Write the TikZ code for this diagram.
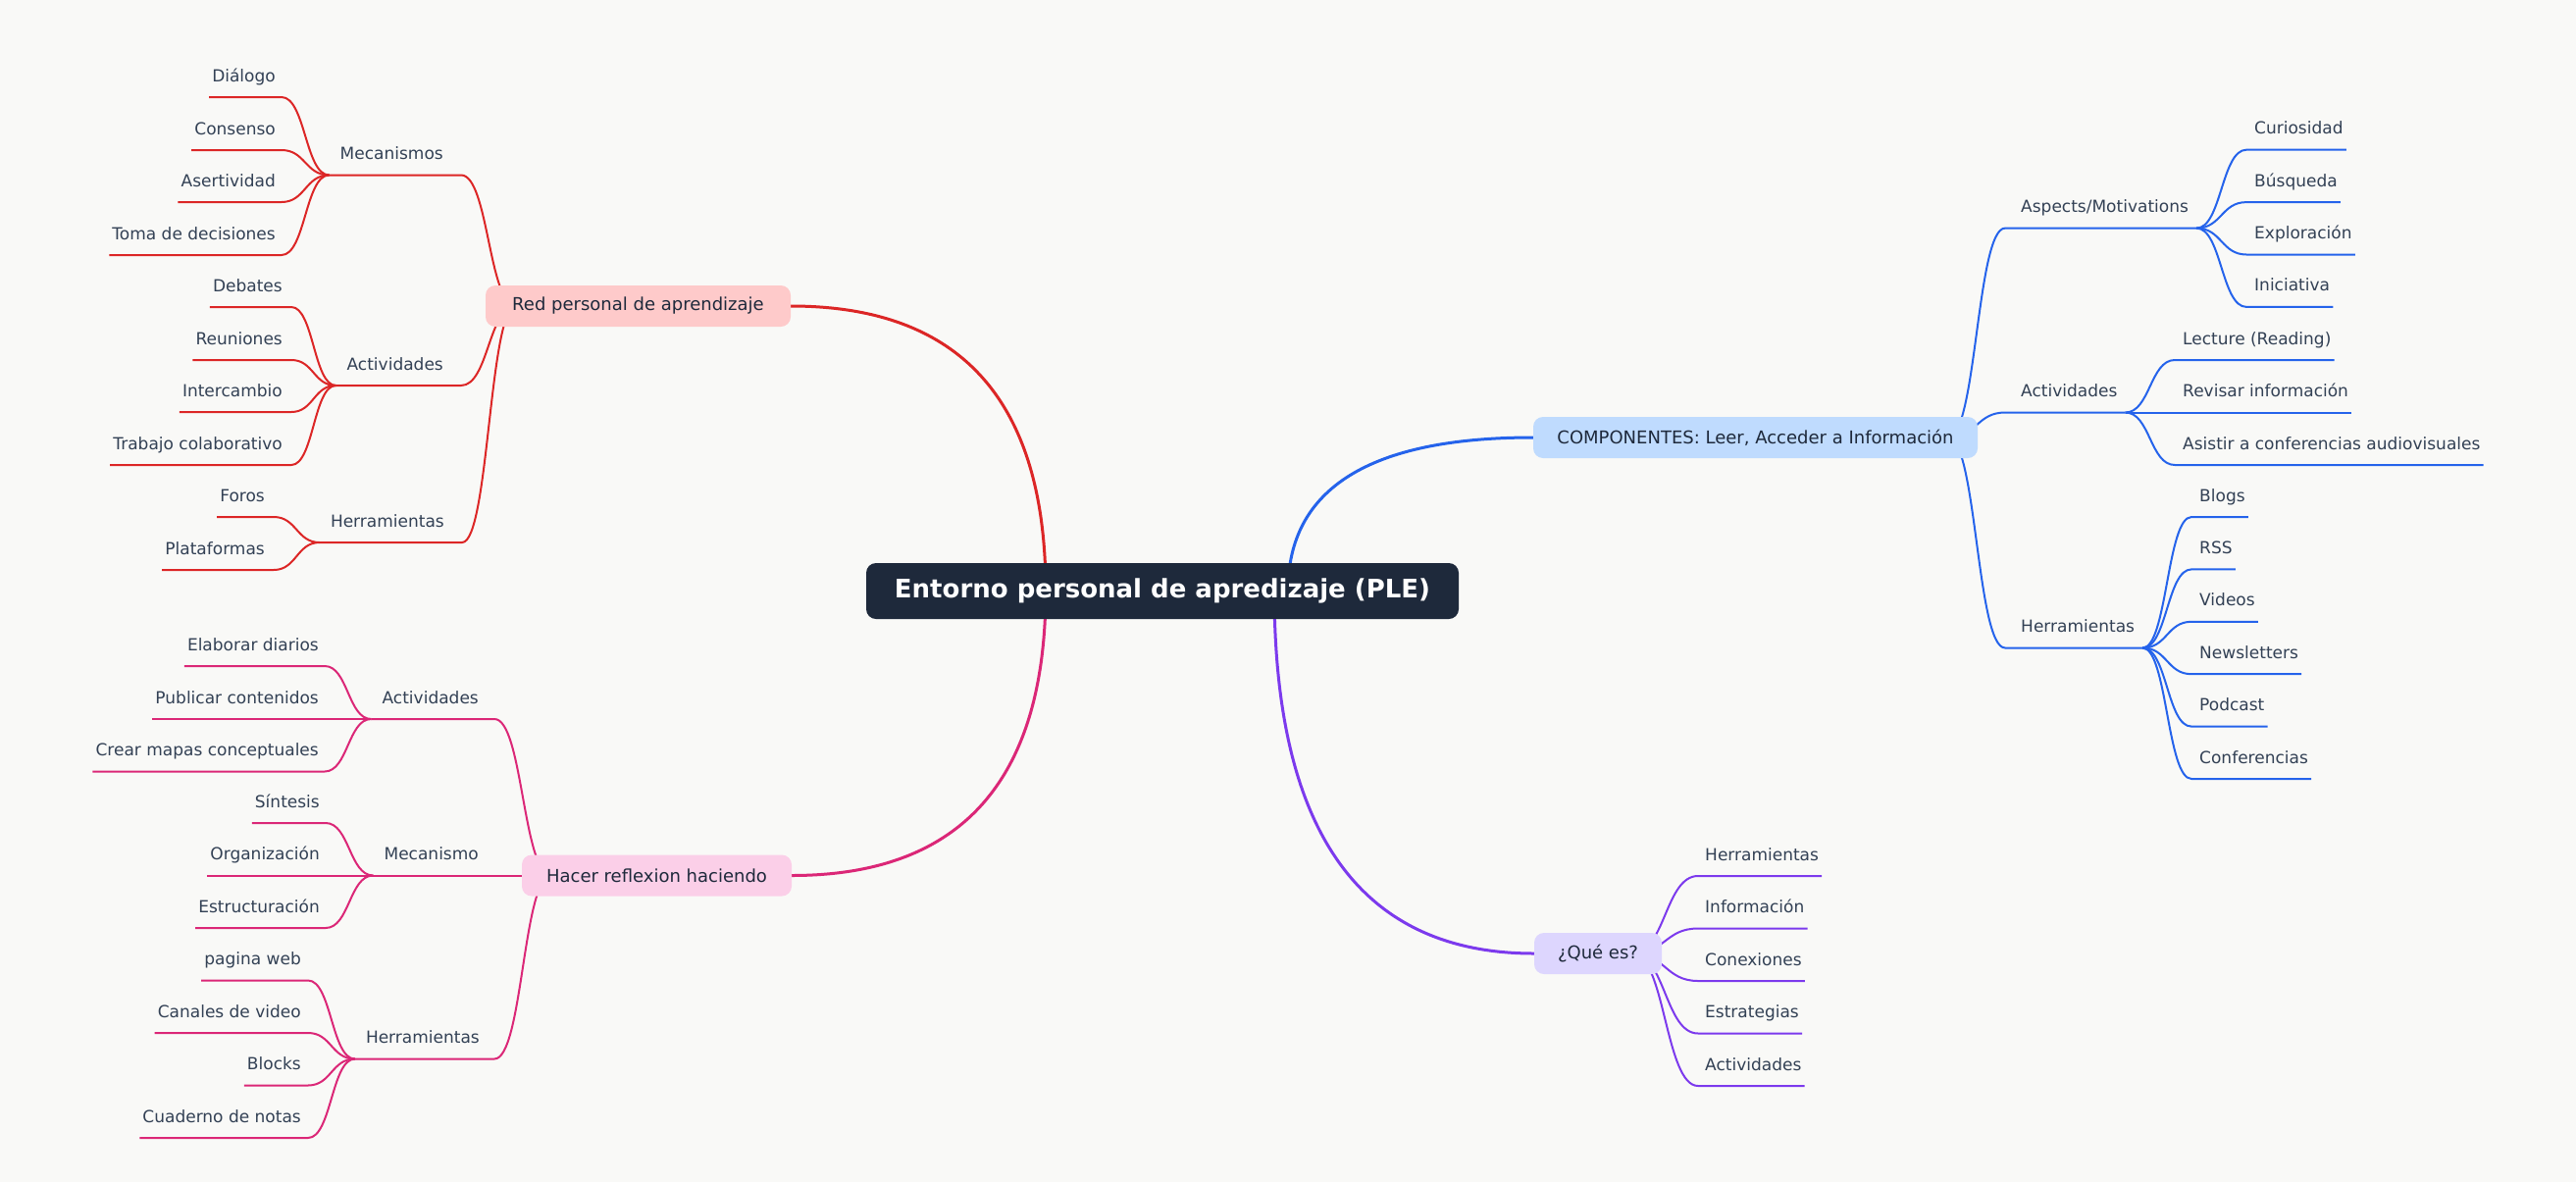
\documentclass[tikz,border=0pt]{standalone}
\usepackage{fontspec}
\setmainfont{DejaVu Sans}
\usetikzlibrary{calc}
\pgfdeclarelayer{back}
\pgfdeclarelayer{bg}
\pgfsetlayers{back,bg,main}
\definecolor{bgc}{HTML}{F9F9F7}
\definecolor{cred}{HTML}{DC2626}
\definecolor{cpink}{HTML}{DB2777}
\definecolor{cblue}{HTML}{2563EB}
\definecolor{cpurple}{HTML}{7C3AED}
\definecolor{fred}{HTML}{FECACA}
\definecolor{fpink}{HTML}{FBCFE8}
\definecolor{fblue}{HTML}{BFDBFE}
\definecolor{fpurple}{HTML}{DDD6FE}
\definecolor{rootc}{HTML}{1E293B}
\definecolor{leafc}{HTML}{334155}
\definecolor{boxtext}{HTML}{1E293B}
\tikzset{
  leaftext/.style={font=\fontsize{17}{20}\selectfont, text=leafc, inner sep=0pt},
  boxnode/.style={rounded corners=10pt, inner sep=0pt, minimum height=42pt,
    font=\fontsize{18}{22}\selectfont, text=boxtext},
  mainline/.style={line width=3pt, line cap=round},
  subline/.style={line width=2pt, line cap=butt, line join=round},
}
% left-side leaf: name, text, text right x, underline right x, y, junction, colour
\newcommand\leafL[7]{%
  \node[leaftext, anchor=base east] (#1) at (#3,#5-16) {#2};
  \path (#1.base west) ++(-3,0) coordinate (#1s);
  \coordinate (#1e) at (#4,#5);
  \coordinate (tmpm) at ($(#1e)!.5!(#6)$);
  \begin{pgfonlayer}{bg}
  \draw[subline,#7] (#1s |- #1e) -- (#1e) .. controls (tmpm |- #1e) and (tmpm |- #6) .. (#6);
  \end{pgfonlayer}}
% left-side sub-branch: name, text, text right x, underline right x, y, source, colour
\newcommand\subL[7]{%
  \node[leaftext, anchor=base east] (#1) at (#3,#5-16) {#2};
  \path (#1.base west) ++(-11,0) coordinate (#1s);
  \coordinate (#1e) at (#4,#5);
  \coordinate (#1j) at (#1s |- #1e);
  \coordinate (tmpm) at ($(#1e)!.5!(#6)$);
  \begin{pgfonlayer}{bg}
  \draw[subline,#7] (#1j) -- (#1e) .. controls (tmpm |- #1e) and (tmpm |- #6) .. (#6);
  \end{pgfonlayer}}
% right-side leaf: name, text, text left x, underline left x, y, junction, colour
\newcommand\leafR[7]{%
  \node[leaftext, anchor=base west] (#1) at (#3,#5-16) {#2};
  \path (#1.base east) ++(3,0) coordinate (#1s);
  \coordinate (#1e) at (#4,#5);
  \coordinate (tmpm) at ($(#1e)!.5!(#6)$);
  \begin{pgfonlayer}{bg}
  \draw[subline,#7] (#6) .. controls (tmpm |- #6) and (tmpm |- #1e) .. (#1e) -- (#1s |- #1e);
  \end{pgfonlayer}}
% right-side sub-branch: name, text, text left x, underline left x, y, source, colour
\newcommand\subR[7]{%
  \node[leaftext, anchor=base west] (#1) at (#3,#5-16) {#2};
  \path (#1.base east) ++(8,0) coordinate (#1s);
  \coordinate (#1e) at (#4,#5);
  \coordinate (#1j) at (#1s |- #1e);
  \coordinate (tmpm) at ($(#1e)!.5!(#6)$);
  \begin{pgfonlayer}{bg}
  \draw[subline,#7] (#6) .. controls (tmpm |- #6) and (tmpm |- #1e) .. (#1e) -- (#1j);
  \end{pgfonlayer}}
\begin{document}
\begin{tikzpicture}[x=1pt,y=-1pt]
\useasboundingbox (0,0) rectangle (2626,1205);
\begin{pgfonlayer}{back}
\fill[bgc] (0,0) rectangle (2626,1205);
\end{pgfonlayer}

% root and main topics
\node[rounded corners=10pt, fill=rootc, text=white, inner sep=0pt,
  minimum width=604pt, minimum height=57pt,
  font=\bfseries\fontsize{26}{31}\selectfont] (root) at (1185,602.5)
  {Entorno personal de apredizaje (PLE)};
\node[boxnode, fill=fred, minimum width=311pt] (red) at (650.5,312) {Red personal de aprendizaje};
\node[boxnode, fill=fpink, minimum width=275pt] (pink) at (669.5,892.5) {Hacer reflexion haciendo};
\node[boxnode, fill=fblue, minimum width=453pt] (blue) at (1789.5,446) {COMPONENTES: Leer, Acceder a Información};
\node[boxnode, fill=fpurple, minimum width=130pt] (purple) at (1629,972) {¿Qué es?};

% main connectors (quadratic curves written as cubics)
\coordinate (r1) at (1066,602);
\coordinate (r2) at (1313,602);
\coordinate (r3) at (1299,602);
\coordinate (qr) at (r1 |- red.east);
\coordinate (qp) at (r1 |- pink.east);
\coordinate (qb) at (r2 |- blue.west);
\coordinate (qq) at (r3 |- purple.west);
\begin{pgfonlayer}{bg}
\draw[mainline,cred] (r1) .. controls ($(r1)!2/3!(qr)$) and ($(red.east)!2/3!(qr)$) .. (red.east);
\draw[mainline,cpink] (r1) .. controls ($(r1)!2/3!(qp)$) and ($(pink.east)!2/3!(qp)$) .. (pink.east);
\draw[mainline,cblue] (r2) .. controls ($(r2)!2/3!(qb)$) and ($(blue.west)!2/3!(qb)$) .. (blue.west);
\draw[mainline,cpurple] (r3) .. controls ($(r3)!2/3!(qq)$) and ($(purple.west)!2/3!(qq)$) .. (purple.west);
\end{pgfonlayer}

% sources of the sub-branches (inside the boxes)
\coordinate (sred) at (526,312);
\coordinate (spink) at (562,892.5);
\coordinate (sblue) at (1986,446);
\coordinate (spurple) at (1664,972);

% red branch
\subL{rm}{Mecanismos}{452}{470}{178.5}{sred}{cred}
\subL{ra}{Actividades}{452}{470}{393}{sred}{cred}
\subL{rh}{Herramientas}{453}{471}{553}{sred}{cred}
\leafL{rm1}{Diálogo}{281}{287}{99}{rmj}{cred}
\leafL{rm2}{Consenso}{281}{287}{153}{rmj}{cred}
\leafL{rm3}{Asertividad}{281}{287}{206}{rmj}{cred}
\leafL{rm4}{Toma de decisiones}{281}{287}{260}{rmj}{cred}
\leafL{ra1}{Debates}{288}{297}{313}{raj}{cred}
\leafL{ra2}{Reuniones}{288}{297}{367}{raj}{cred}
\leafL{ra3}{Intercambio}{288}{297}{420}{raj}{cred}
\leafL{ra4}{Trabajo colaborativo}{288}{297}{474}{raj}{cred}
\leafL{rh1}{Foros}{270}{279}{527}{rhj}{cred}
\leafL{rh2}{Plataformas}{270}{279}{581}{rhj}{cred}

% pink branch
\subL{pa}{Actividades}{488}{504}{733}{spink}{cpink}
\subL{pm}{Mecanismo}{488}{504}{892.5}{spink}{cpink}
\subL{ph}{Herramientas}{489}{504}{1079.5}{spink}{cpink}
\leafL{pa1}{Elaborar diarios}{325}{331}{679}{paj}{cpink}
\leafL{pa2}{Publicar contenidos}{325}{331}{733}{paj}{cpink}
\leafL{pa3}{Crear mapas conceptuales}{325}{331}{786.5}{paj}{cpink}
\leafL{pm1}{Síntesis}{326}{332}{839}{pmj}{cpink}
\leafL{pm2}{Organización}{326}{332}{892.5}{pmj}{cpink}
\leafL{pm3}{Estructuración}{326}{332}{946}{pmj}{cpink}
\leafL{ph1}{pagina web}{307}{314}{999.5}{phj}{cpink}
\leafL{ph2}{Canales de video}{307}{314}{1053}{phj}{cpink}
\leafL{ph3}{Blocks}{307}{314}{1106.5}{phj}{cpink}
\leafL{ph4}{Cuaderno de notas}{307}{314}{1160}{phj}{cpink}

% blue branch
\subR{ba}{Aspects/Motivations}{2060}{2044}{232.6}{sblue}{cblue}
\subR{bb}{Actividades}{2060}{2044}{420.5}{sblue}{cblue}
\subR{bh}{Herramientas}{2060}{2044}{660.5}{sblue}{cblue}
\leafR{ba1}{Curiosidad}{2298}{2290}{152.7}{baj}{cblue}
\leafR{ba2}{Búsqueda}{2298}{2290}{206.1}{baj}{cblue}
\leafR{ba3}{Exploración}{2298}{2290}{259.5}{baj}{cblue}
\leafR{ba4}{Iniciativa}{2298}{2290}{312.9}{baj}{cblue}
\leafR{bb1}{Lecture (Reading)}{2225}{2217}{367}{bbj}{cblue}
\leafR{bb2}{Revisar información}{2225}{2217}{420.5}{bbj}{cblue}
\leafR{bb3}{Asistir a conferencias audiovisuales}{2225}{2217}{474}{bbj}{cblue}
\leafR{bh1}{Blogs}{2242}{2234}{527}{bhj}{cblue}
\leafR{bh2}{RSS}{2242}{2234}{580.4}{bhj}{cblue}
\leafR{bh3}{Videos}{2242}{2234}{633.8}{bhj}{cblue}
\leafR{bh4}{Newsletters}{2242}{2234}{687.2}{bhj}{cblue}
\leafR{bh5}{Podcast}{2242}{2234}{740.6}{bhj}{cblue}
\leafR{bh6}{Conferencias}{2242}{2234}{794}{bhj}{cblue}

% purple branch
\leafR{q1}{Herramientas}{1738}{1731}{893}{spurple}{cpurple}
\leafR{q2}{Información}{1738}{1731}{946.5}{spurple}{cpurple}
\leafR{q3}{Conexiones}{1738}{1731}{1000}{spurple}{cpurple}
\leafR{q4}{Estrategias}{1738}{1731}{1053.5}{spurple}{cpurple}
\leafR{q5}{Actividades}{1738}{1731}{1107}{spurple}{cpurple}
\end{tikzpicture}
\end{document}
